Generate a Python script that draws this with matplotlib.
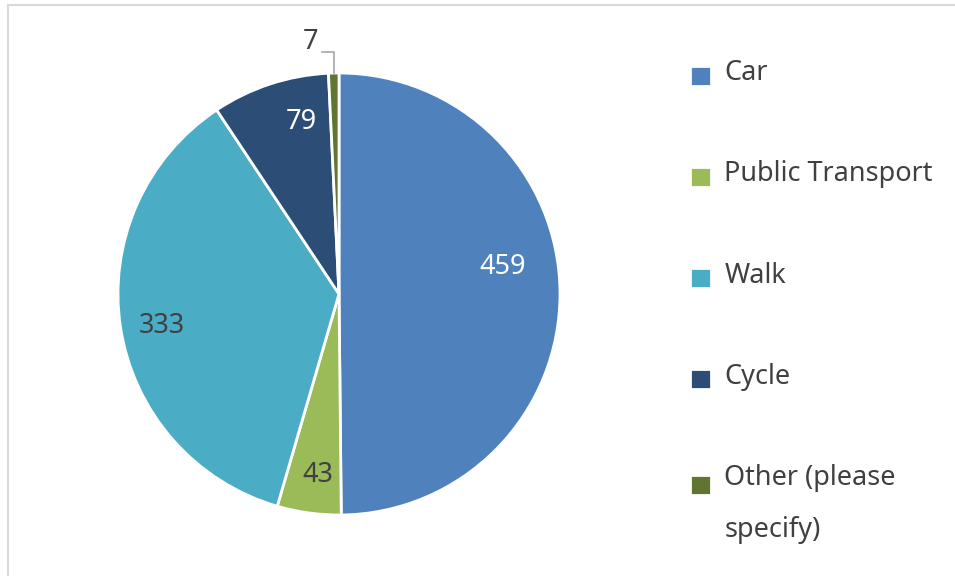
import matplotlib.pyplot as plt
from matplotlib.patches import Rectangle

categories = ["Car", "Public Transport", "Walk", "Cycle", "Other (please\nspecify)"]
values = [459, 43, 333, 79, 7]
colors = ["#4F81BD", "#9BBB59", "#4BACC6", "#2C4D75", "#5F7530"]
label_colors = ["white", "#404040", "#404040", "white", "#404040"]
# label positions in pie units (radius = 1)
label_pos = [(0.74, 0.12), (-0.095, -0.82), (-0.80, -0.145), (-0.17, 0.78), (-0.13, 1.14)]

plt.rcParams['font.family'] = ['Noto Sans', 'DejaVu Sans']
FS = 19.5

fig = plt.figure(figsize=(9.55, 5.76), dpi=100)
ax = fig.add_axes([118 / 955, 61 / 576, 442 / 955, 442 / 576])

wedges, _ = ax.pie(values, colors=colors, startangle=90, counterclock=False,
                   radius=1, wedgeprops=dict(edgecolor="white", linewidth=2))
ax.set_xlim(-1, 1)
ax.set_ylim(-1, 1)
ax.set_aspect("equal")
ax.axis("off")

for v, (x, y), c in zip(values, label_pos, label_colors):
    ax.text(x, y, str(v), ha="center", va="center", fontsize=FS, color=c, clip_on=False)

# leader line for the small slice
ax.plot([-0.077, -0.023, -0.023], [1.095, 1.095, 1.0], color="#A6A6A6", lw=1.2, clip_on=False)

leg = fig.legend(wedges, categories, loc="upper left", bbox_to_anchor=(666 / 955, 1 - 35 / 576),
                 frameon=False, fontsize=FS, labelcolor="#404040",
                 handlelength=0.75, handleheight=0.75, handletextpad=0.5, labelspacing=2.70)
leg.get_texts()[4].set_linespacing(2.15)
# markers sit a little low; the two-line entry's marker stays level with its first line
for i, h in enumerate(leg.legend_handles):
    dy = -5 + (25 if i == 4 else 0)
    h.set_y(h.get_y() + dy * 72 / 100)

fig.patches.append(Rectangle((8 / 955, -0.05), 1.2, 1 - 5 / 576 + 0.05, transform=fig.transFigure,
                             fill=False, edgecolor="#D9D9D9", lw=1.5, clip_on=False))

fig.savefig("out.png", dpi=100)
